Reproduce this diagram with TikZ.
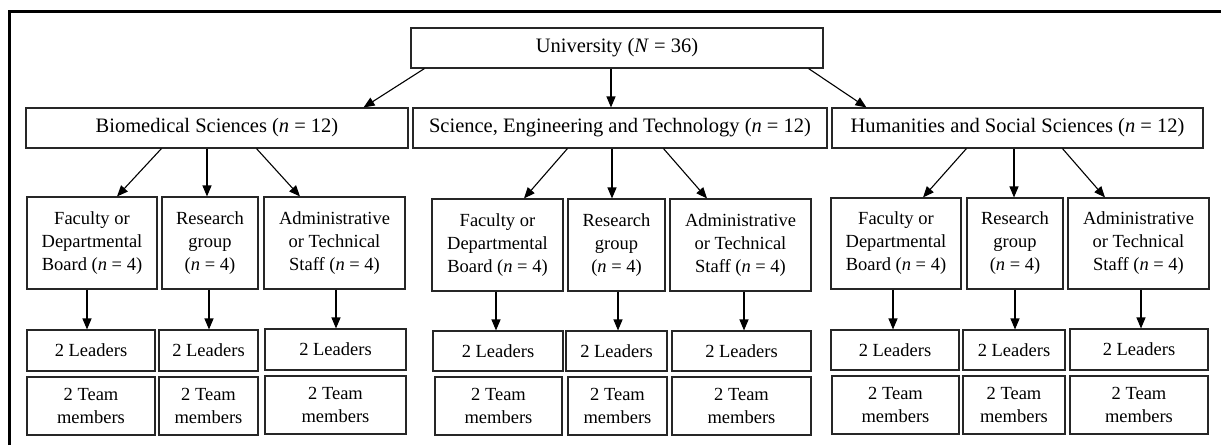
\documentclass[tikz,border=0pt]{standalone}
\usepackage{fontspec}
\setmainfont{Liberation Serif}
\usetikzlibrary{arrows.meta}

% \orgbox[extra style]{name}{left}{right}{top}{bottom}{text}
\newcommand\orgbox[7][]{%
  \node[box, #1, minimum width={(#4-#3)*1pt}, minimum height={(#6-#5)*1pt}]
    (#2) at ({(#3+#4)/2},{(#5+#6)/2}) {#7};}
\newcommand\nv{\textit{n}}

\begin{document}
\begin{tikzpicture}[x=1pt, y=-1pt,
  box/.style={draw=black!85, line width=1.1pt, inner sep=0pt, align=center,
    font=\fontsize{18.5}{23}\selectfont},
  big/.style={font=\fontsize{20.5}{24}\selectfont},
  arr/.style={draw=black, line width=1.1pt, -{Triangle[length=11pt,width=9pt]}},
  frame/.style={draw=black, line width=3pt}]
\useasboundingbox (0,0) rectangle (1221,445);

% outer frame (top and left sides)
\draw[frame] (9,445) -- (9,11) -- (1221,11);

% top level
\orgbox[big]{univ}{411}{823}{28}{68}{University (\textit{N} = 36)}

% schools
\orgbox[big]{bs}{26}{408}{108}{148}{Biomedical Sciences (\nv{} = 12)}
\orgbox[big]{set}{413}{827}{108}{148}{Science, Engineering and Technology (\nv{} = 12)}
\orgbox[big]{hss}{832}{1203}{108}{148}{Humanities and Social Sciences (\nv{} = 12)}

% Biomedical Sciences
\orgbox{bsf}{27}{157}{197}{289}{Faculty or\\Departmental\\Board (\nv{} = 4)}
\orgbox{bsr}{162}{258}{197}{289}{Research\\group\\(\nv{} = 4)}
\orgbox{bsa}{264}{405}{197}{289}{Administrative\\or Technical\\Staff (\nv{} = 4)}
\orgbox{bsl1}{27}{155}{330}{371}{2 Leaders}
\orgbox{bst1}{27}{155}{377}{435}{2 Team\\members}
\orgbox{bsl2}{159}{258}{330}{371}{2 Leaders}
\orgbox{bst2}{159}{258}{377}{435}{2 Team\\members}
\orgbox{bsl3}{265}{406}{329}{370}{2 Leaders}
\orgbox{bst3}{265}{406}{376}{434}{2 Team\\members}

% Science, Engineering and Technology
\orgbox{setf}{432}{563}{199}{291}{Faculty or\\Departmental\\Board (\nv{} = 4)}
\orgbox{setr}{568}{665}{199}{291}{Research\\group\\(\nv{} = 4)}
\orgbox{seta}{670}{811}{199}{291}{Administrative\\or Technical\\Staff (\nv{} = 4)}
\orgbox{setl1}{433}{563}{331}{371}{2 Leaders}
\orgbox{sett1}{435}{562}{377}{435}{2 Team\\members}
\orgbox{setl2}{566}{667}{331}{371}{2 Leaders}
\orgbox{sett2}{568}{667}{377}{435}{2 Team\\members}
\orgbox{setl3}{672}{811}{331}{371}{2 Leaders}
\orgbox{sett3}{672}{811}{377}{435}{2 Team\\members}

% Humanities and Social Sciences
\orgbox{hssf}{831}{961}{198}{289}{Faculty or\\Departmental\\Board (\nv{} = 4)}
\orgbox{hssr}{967}{1063}{198}{289}{Research\\group\\(\nv{} = 4)}
\orgbox{hssa}{1068}{1209}{198}{289}{Administrative\\or Technical\\Staff (\nv{} = 4)}
\orgbox{hssl1}{831}{959}{330}{370}{2 Leaders}
\orgbox{hsst1}{832}{959}{376}{434}{2 Team\\members}
\orgbox{hssl2}{963}{1065}{330}{370}{2 Leaders}
\orgbox{hsst2}{963}{1065}{376}{434}{2 Team\\members}
\orgbox{hssl3}{1070}{1208}{329}{370}{2 Leaders}
\orgbox{hsst3}{1070}{1208}{376}{434}{2 Team\\members}

% university to schools
\draw[arr] ([xshift=14pt]univ.south west) -- ([xshift=-45pt]bs.north east);
\draw[arr] ([xshift=-6pt]univ.south) -- ([xshift=-6pt]univ.south |- set.north);
\draw[arr] ([xshift=-15pt]univ.south east) -- ([xshift=35pt]hss.north west);

% schools to groups
\draw[arr] ([xshift=136pt]bs.south west) -- ([xshift=25pt]bsf.north);
\draw[arr] ([xshift=-3pt]bsr.north |- bs.south) -- ([xshift=-3pt]bsr.north);
\draw[arr] ([xshift=231pt]bs.south west) -- ([xshift=-34.5pt]bsa.north);

\draw[arr] ([xshift=155pt]set.south west) -- ([xshift=26.5pt]setf.north);
\draw[arr] ([xshift=-4.5pt]setr.north |- set.south) -- ([xshift=-4.5pt]setr.north);
\draw[arr] ([xshift=251pt]set.south west) -- ([xshift=-33.5pt]seta.north);

\draw[arr] ([xshift=135pt]hss.south west) -- ([xshift=27pt]hssf.north);
\draw[arr] ([xshift=-1pt]hssr.north |- hss.south) -- ([xshift=-1pt]hssr.north);
\draw[arr] ([xshift=231pt]hss.south west) -- ([xshift=-33.5pt]hssa.north);

% groups to leaders
\draw[arr] ([xshift=-5pt]bsf.south) -- ([xshift=-5pt]bsf.south |- bsl1.north);
\draw[arr] ([xshift=-1pt]bsr.south) -- ([xshift=-1pt]bsr.south |- bsl2.north);
\draw[arr] ([xshift=1.5pt]bsa.south) -- ([xshift=1.5pt]bsa.south |- bsl3.north);

\draw[arr] ([xshift=-1.5pt]setf.south) -- ([xshift=-1.5pt]setf.south |- setl1.north);
\draw[arr] ([xshift=1.5pt]setr.south) -- ([xshift=1.5pt]setr.south |- setl2.north);
\draw[arr] ([xshift=3.5pt]seta.south) -- ([xshift=3.5pt]seta.south |- setl3.north);

\draw[arr] ([xshift=-3pt]hssf.south) -- ([xshift=-3pt]hssf.south |- hssl1.north);
\draw[arr] (hssr.south) -- (hssr.south |- hssl2.north);
\draw[arr] ([xshift=2.5pt]hssa.south) -- ([xshift=2.5pt]hssa.south |- hssl3.north);
\end{tikzpicture}
\end{document}
